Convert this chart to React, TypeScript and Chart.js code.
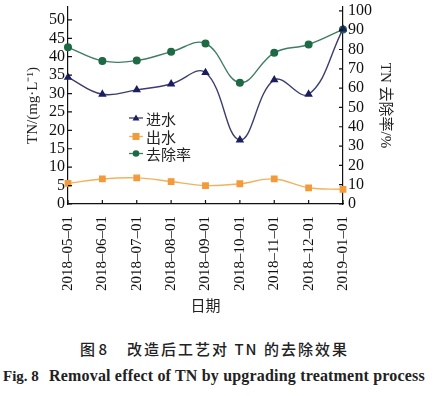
import React, { useEffect, useRef } from 'react';
import { Chart, registerables } from 'chart.js';

Chart.register(...registerables);

const categories = [
  '2018–05–01', '2018–06–01', '2018–07–01', '2018–08–01', '2018–09–01',
  '2018–10–01', '2018–11–01', '2018–12–01', '2019–01–01',
];
const influentTN = [34.4, 29.8, 31.0, 32.6, 35.7, 17.4, 33.7, 29.8, 47.5];
const effluentTN = [5.6, 6.8, 7.1, 6.1, 5.0, 5.5, 6.8, 4.4, 4.0];
const removalRate = [81.1, 74.1, 74.3, 78.8, 83.1, 62.8, 78.3, 82.6, 90.4];
const seriesNames = ['进水', '出水', '去除率'];
const leftTickValues = [0, 5, 10, 15, 20, 25, 30, 35, 40, 45, 50];
const rightTickValues = [0, 10, 20, 30, 40, 50, 60, 70, 80, 90, 100];
const leftTitle = 'TN/(mg·L⁻¹)';
const rightTitle = 'TN 去除率/%';
const xTitle = '日期';

const SERIF = "'Liberation Serif', 'Noto Sans CJK SC', serif";
const CJK = "'Noto Sans CJK SC', sans-serif";

const COLORS = {
  blueLine: '#3b3d6e', bluePt: '#1c1f5e',
  orangeLine: '#f2b25c', orangePt: '#f39a3a',
  greenLine: '#3f7d63', greenPt: '#1d6a45',
};

const zeroPad = (s: any) => {
  s.paddingTop = 0; s.paddingBottom = 0; s.paddingLeft = 0; s.paddingRight = 0;
};

const inwardTicks = {
  id: 'inwardTicks',
  afterDraw(chart: any) {
    const ctx = chart.ctx;
    const { x, y, y1 } = chart.scales;
    const ca = chart.chartArea;
    ctx.save();
    ctx.strokeStyle = '#111';
    ctx.lineWidth = 1.2;
    ctx.beginPath();
    x.ticks.forEach((_t: any, i: number) => {
      const px = x.getPixelForTick(i);
      ctx.moveTo(px, ca.bottom);
      ctx.lineTo(px, ca.bottom - 4);
    });
    y.ticks.forEach((t: any) => {
      const py = y.getPixelForValue(t.value);
      ctx.moveTo(ca.left, py);
      ctx.lineTo(ca.left + 4, py);
    });
    y1.ticks.forEach((t: any) => {
      const py = y1.getPixelForValue(t.value);
      ctx.moveTo(ca.right, py);
      ctx.lineTo(ca.right - 4, py);
    });
    ctx.stroke();
    ctx.restore();
  },
};

const innerLegend = {
  id: 'innerLegend',
  afterDatasetsDraw(chart: any) {
    const ctx = chart.ctx;
    const ca = chart.chartArea;
    const x0 = ca.left + 61;
    const rows = [ca.top + 111, ca.top + 129.5, ca.top + 146.5];
    ctx.save();
    chart.data.datasets.forEach((ds: any, i: number) => {
      const yy = rows[i];
      ctx.strokeStyle = ds.borderColor;
      ctx.lineWidth = 1.3;
      ctx.beginPath();
      ctx.moveTo(x0, yy);
      ctx.lineTo(x0 + 14, yy);
      ctx.stroke();
      ctx.fillStyle = ds.pointBackgroundColor;
      const cx = x0 + 7;
      ctx.beginPath();
      if (ds.pointStyle === 'triangle') {
        ctx.moveTo(cx, yy - 3.5);
        ctx.lineTo(cx + 3.5, yy + 2.5);
        ctx.lineTo(cx - 3.5, yy + 2.5);
        ctx.closePath();
      } else if (ds.pointStyle === 'rect') {
        ctx.rect(cx - 3.5, yy - 3.5, 7, 7);
      } else {
        ctx.arc(cx, yy, 3.3, 0, Math.PI * 2);
      }
      ctx.fill();
      ctx.fillStyle = '#222';
      ctx.font = `15px ${CJK}`;
      ctx.textBaseline = 'middle';
      ctx.textAlign = 'left';
      ctx.fillText(ds.label, x0 + 17, yy + 1);
    });
    ctx.restore();
  },
};

export default function App() {
  const ref = useRef<HTMLCanvasElement>(null);

  useEffect(() => {
    if (!ref.current) return;
    const chart = new Chart(ref.current, {
      type: 'line',
      data: {
        labels: categories,
        datasets: [
          {
            label: seriesNames[0], data: influentTN, yAxisID: 'y',
            borderColor: COLORS.blueLine, backgroundColor: COLORS.bluePt,
            pointBackgroundColor: COLORS.bluePt, pointBorderColor: COLORS.bluePt,
            pointStyle: 'triangle', pointRadius: 3.5, borderWidth: 1.4, tension: 0.4,
          },
          {
            label: seriesNames[1], data: effluentTN, yAxisID: 'y',
            borderColor: COLORS.orangeLine, backgroundColor: COLORS.orangePt,
            pointBackgroundColor: COLORS.orangePt, pointBorderColor: COLORS.orangePt,
            pointStyle: 'rect', pointRadius: 3.8, borderWidth: 1.4, tension: 0.4,
          },
          {
            label: seriesNames[2], data: removalRate, yAxisID: 'y1',
            borderColor: COLORS.greenLine, backgroundColor: COLORS.greenPt,
            pointBackgroundColor: COLORS.greenPt, pointBorderColor: COLORS.greenPt,
            pointStyle: 'circle', pointRadius: 3.3, borderWidth: 1.4, tension: 0.4,
          },
        ],
      },
      options: {
        responsive: false,
        animation: false,
        layout: { padding: { top: 7, left: 0, right: 0, bottom: 0 } },
        plugins: { legend: { display: false }, tooltip: { enabled: false } },
        scales: {
          x: {
            type: 'category',
            offset: false,
            grid: { drawOnChartArea: false, drawTicks: false },
            border: { display: true, color: '#111', width: 1.2 },
            ticks: {
              autoSkip: false, minRotation: 90, maxRotation: 90, padding: 12,
              color: '#111', font: { family: SERIF, size: 15 },
            },
            title: {
              display: true, text: xTitle, color: '#222',
              font: { family: CJK, size: 15 }, padding: { top: 0, bottom: 6 },
            },
            afterFit: (s: any) => { s.height = 116; zeroPad(s); },
          },
          y: {
            position: 'left', min: 0, max: 53.5,
            grid: { drawOnChartArea: false, drawTicks: false },
            border: { display: true, color: '#111', width: 1.2 },
            ticks: {
              autoSkip: false, padding: 3, color: '#111',
              font: { family: SERIF, size: 16 },
            },
            afterBuildTicks: (s: any) => {
              s.ticks = leftTickValues.map((v) => ({ value: v }));
            },
            title: {
              display: true, text: leftTitle, color: '#222',
              font: { family: SERIF, size: 15 }, padding: { top: 24, bottom: 0 },
            },
            afterFit: (s: any) => { s.width = 68; zeroPad(s); },
          },
          y1: {
            position: 'right', min: 0, max: 102,
            grid: { drawOnChartArea: false, drawTicks: false },
            border: { display: true, color: '#111', width: 1.2 },
            ticks: {
              autoSkip: false, padding: 5, color: '#111',
              font: { family: SERIF, size: 16 },
            },
            afterBuildTicks: (s: any) => {
              s.ticks = rightTickValues.map((v) => ({ value: v }));
            },
            title: {
              display: true, text: rightTitle, color: '#222',
              font: { family: SERIF, size: 15 }, padding: { top: 43, bottom: 0 },
            },
            afterFit: (s: any) => { s.width = 94; zeroPad(s); },
          },
        },
      },
      plugins: [inwardTicks, innerLegend],
    } as any);
    return () => chart.destroy();
  }, []);

  return (
    <div style={{ position: 'absolute', left: 0, top: 0, width: 437, height: 396, background: '#fff', overflow: 'hidden' }}>
      <canvas ref={ref} width={437} height={320} style={{ position: 'absolute', left: 0, top: 0, width: 437, height: 320 }} />
      <div style={{ position: 'absolute', left: 80, top: 339, fontFamily: CJK, fontSize: 15, fontWeight: 500, color: '#222', whiteSpace: 'nowrap', lineHeight: '20px' }}>图 8</div>
      <div style={{ position: 'absolute', left: 127, top: 339, fontFamily: CJK, fontSize: 15, fontWeight: 500, color: '#222', whiteSpace: 'nowrap', letterSpacing: '2px', lineHeight: '20px' }}>改造后工艺对 TN 的去除效果</div>
      <div style={{ position: 'absolute', left: 3, top: 366, fontFamily: SERIF, fontSize: 15, fontWeight: 'bold', color: '#222', whiteSpace: 'nowrap', lineHeight: '20px' }}>Fig. 8</div>
      <div style={{ position: 'absolute', left: 49, top: 366, fontFamily: SERIF, fontSize: 16, fontWeight: 'bold', color: '#222', whiteSpace: 'nowrap', lineHeight: '20px', letterSpacing: '0.18px' }}>Removal effect of TN by upgrading treatment process</div>
    </div>
  );
}
